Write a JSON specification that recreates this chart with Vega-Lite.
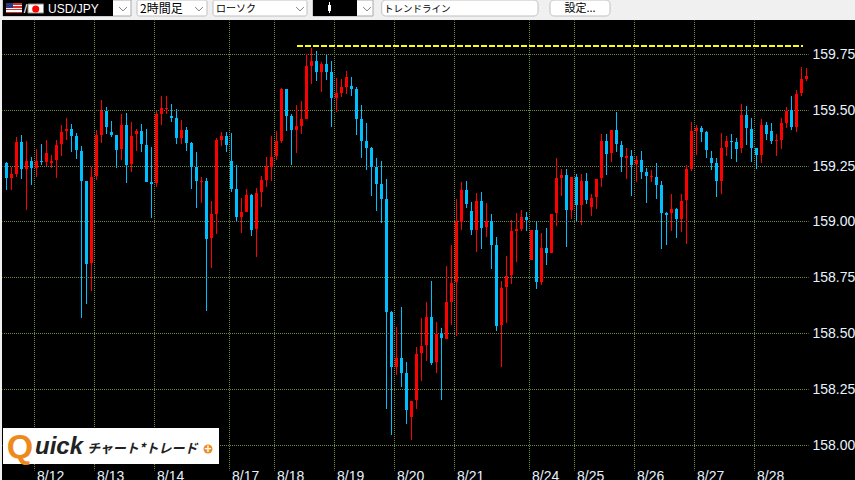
{
  "$schema": "https://vega.github.io/schema/vega-lite/v6.json",
  "width": 806,
  "height": 450,
  "autosize": {"type": "none"},
  "padding": {"left": 2, "top": 20, "right": 47, "bottom": 10},
  "background": "#000000",
  "config": {"view": {"stroke": null}},
  "layer": [
    {
      "data": {"values": [
        {"i":0,"o":159.262,"h":159.266,"l":159.141,"c":159.193},
        {"i":1,"o":159.193,"h":159.242,"l":159.141,"c":159.212},
        {"i":2,"o":159.211,"h":159.378,"l":159.197,"c":159.356},
        {"i":3,"o":159.356,"h":159.387,"l":159.190,"c":159.233},
        {"i":4,"o":159.233,"h":159.360,"l":159.051,"c":159.271},
        {"i":5,"o":159.271,"h":159.289,"l":159.163,"c":159.238},
        {"i":6,"o":159.239,"h":159.323,"l":159.197,"c":159.271},
        {"i":7,"o":159.271,"h":159.347,"l":159.251,"c":159.266},
        {"i":8,"o":159.266,"h":159.365,"l":159.247,"c":159.306},
        {"i":9,"o":159.260,"h":159.297,"l":159.239,"c":159.271},
        {"i":10,"o":159.275,"h":159.365,"l":159.194,"c":159.342},
        {"i":11,"o":159.347,"h":159.432,"l":159.293,"c":159.400},
        {"i":12,"o":159.403,"h":159.463,"l":159.365,"c":159.414},
        {"i":13,"o":159.414,"h":159.436,"l":159.311,"c":159.384},
        {"i":14,"o":159.383,"h":159.396,"l":159.280,"c":159.318},
        {"i":15,"o":159.315,"h":159.338,"l":158.567,"c":159.182},
        {"i":16,"o":159.181,"h":159.181,"l":158.630,"c":158.808},
        {"i":17,"o":158.812,"h":159.242,"l":158.688,"c":159.199},
        {"i":18,"o":159.203,"h":159.409,"l":159.185,"c":159.387},
        {"i":19,"o":159.389,"h":159.544,"l":159.351,"c":159.495},
        {"i":20,"o":159.495,"h":159.513,"l":159.392,"c":159.424},
        {"i":21,"o":159.400,"h":159.450,"l":159.378,"c":159.389},
        {"i":22,"o":159.387,"h":159.387,"l":159.239,"c":159.320},
        {"i":23,"o":159.323,"h":159.481,"l":159.275,"c":159.432},
        {"i":24,"o":159.432,"h":159.486,"l":159.172,"c":159.254},
        {"i":25,"o":159.257,"h":159.445,"l":159.221,"c":159.383},
        {"i":26,"o":159.390,"h":159.414,"l":159.315,"c":159.405},
        {"i":27,"o":159.405,"h":159.436,"l":159.311,"c":159.345},
        {"i":28,"o":159.342,"h":159.414,"l":159.177,"c":159.178},
        {"i":29,"o":159.177,"h":159.333,"l":159.015,"c":159.168},
        {"i":30,"o":159.172,"h":159.495,"l":159.154,"c":159.481},
        {"i":31,"o":159.483,"h":159.562,"l":159.432,"c":159.508},
        {"i":32,"o":159.504,"h":159.562,"l":159.481,"c":159.508},
        {"i":33,"o":159.472,"h":159.526,"l":159.445,"c":159.463},
        {"i":34,"o":159.463,"h":159.504,"l":159.347,"c":159.374},
        {"i":35,"o":159.374,"h":159.454,"l":159.347,"c":159.409},
        {"i":36,"o":159.409,"h":159.423,"l":159.315,"c":159.353},
        {"i":37,"o":159.351,"h":159.356,"l":159.145,"c":159.244},
        {"i":38,"o":159.244,"h":159.311,"l":159.060,"c":159.180},
        {"i":39,"o":159.177,"h":159.199,"l":159.082,"c":159.180},
        {"i":40,"o":159.181,"h":159.194,"l":158.599,"c":158.923},
        {"i":41,"o":158.924,"h":159.091,"l":158.791,"c":159.033},
        {"i":42,"o":159.032,"h":159.374,"l":158.944,"c":159.365},
        {"i":43,"o":159.365,"h":159.400,"l":159.338,"c":159.383},
        {"i":44,"o":159.383,"h":159.400,"l":159.311,"c":159.342},
        {"i":45,"o":159.271,"h":159.396,"l":159.132,"c":159.145},
        {"i":46,"o":159.145,"h":159.253,"l":159.000,"c":159.021},
        {"i":47,"o":159.021,"h":159.105,"l":158.948,"c":159.042},
        {"i":48,"o":159.042,"h":159.145,"l":159.042,"c":159.118},
        {"i":49,"o":159.118,"h":159.123,"l":158.935,"c":158.961},
        {"i":50,"o":158.964,"h":159.150,"l":158.841,"c":159.127},
        {"i":51,"o":159.132,"h":159.203,"l":159.065,"c":159.185},
        {"i":52,"o":159.185,"h":159.289,"l":159.154,"c":159.248},
        {"i":53,"o":159.244,"h":159.383,"l":159.181,"c":159.289},
        {"i":54,"o":159.293,"h":159.405,"l":159.275,"c":159.360},
        {"i":55,"o":159.362,"h":159.598,"l":159.351,"c":159.593},
        {"i":56,"o":159.593,"h":159.593,"l":159.405,"c":159.474},
        {"i":57,"o":159.472,"h":159.481,"l":159.253,"c":159.409},
        {"i":58,"o":159.409,"h":159.521,"l":159.306,"c":159.427},
        {"i":59,"o":159.427,"h":159.539,"l":159.392,"c":159.459},
        {"i":60,"o":159.459,"h":159.750,"l":159.459,"c":159.696},
        {"i":61,"o":159.696,"h":159.777,"l":159.616,"c":159.719},
        {"i":62,"o":159.719,"h":159.763,"l":159.629,"c":159.671},
        {"i":63,"o":159.671,"h":159.714,"l":159.580,"c":159.705},
        {"i":64,"o":159.705,"h":159.746,"l":159.634,"c":159.671},
        {"i":65,"o":159.669,"h":159.719,"l":159.423,"c":159.553},
        {"i":66,"o":159.554,"h":159.642,"l":159.490,"c":159.575},
        {"i":67,"o":159.577,"h":159.638,"l":159.557,"c":159.602},
        {"i":68,"o":159.604,"h":159.674,"l":159.571,"c":159.647},
        {"i":69,"o":159.607,"h":159.647,"l":159.562,"c":159.593},
        {"i":70,"o":159.593,"h":159.602,"l":159.387,"c":159.460},
        {"i":71,"o":159.459,"h":159.521,"l":159.284,"c":159.360},
        {"i":72,"o":159.360,"h":159.441,"l":159.230,"c":159.329},
        {"i":73,"o":159.329,"h":159.333,"l":159.114,"c":159.244},
        {"i":74,"o":159.244,"h":159.284,"l":159.047,"c":159.168},
        {"i":75,"o":159.168,"h":159.271,"l":158.993,"c":159.100},
        {"i":76,"o":159.100,"h":159.190,"l":158.160,"c":158.596},
        {"i":77,"o":158.593,"h":158.599,"l":158.043,"c":158.349},
        {"i":78,"o":158.349,"h":158.527,"l":158.312,"c":158.388},
        {"i":79,"o":158.388,"h":158.617,"l":158.258,"c":158.322},
        {"i":80,"o":158.321,"h":158.370,"l":158.092,"c":158.155},
        {"i":81,"o":158.124,"h":158.195,"l":158.021,"c":158.195},
        {"i":82,"o":158.198,"h":158.437,"l":158.160,"c":158.406},
        {"i":83,"o":158.409,"h":158.567,"l":158.285,"c":158.442},
        {"i":84,"o":158.445,"h":158.639,"l":158.375,"c":158.572},
        {"i":85,"o":158.572,"h":158.733,"l":158.357,"c":158.366},
        {"i":86,"o":158.369,"h":158.549,"l":158.321,"c":158.496},
        {"i":87,"o":158.496,"h":158.522,"l":158.200,"c":158.476},
        {"i":88,"o":158.473,"h":158.800,"l":158.473,"c":158.639},
        {"i":89,"o":158.640,"h":158.894,"l":158.536,"c":158.724},
        {"i":90,"o":158.726,"h":159.100,"l":158.487,"c":159.002},
        {"i":91,"o":158.997,"h":159.177,"l":158.962,"c":159.141},
        {"i":92,"o":159.141,"h":159.181,"l":159.060,"c":159.078},
        {"i":93,"o":159.047,"h":159.087,"l":158.939,"c":158.959},
        {"i":94,"o":158.959,"h":159.127,"l":158.863,"c":159.091},
        {"i":95,"o":159.091,"h":159.132,"l":158.876,"c":158.970},
        {"i":96,"o":158.973,"h":159.082,"l":158.930,"c":159.002},
        {"i":97,"o":159.002,"h":159.033,"l":158.787,"c":158.896},
        {"i":98,"o":158.894,"h":158.930,"l":158.509,"c":158.531},
        {"i":99,"o":158.534,"h":158.733,"l":158.348,"c":158.702},
        {"i":100,"o":158.705,"h":158.845,"l":158.545,"c":158.755},
        {"i":101,"o":158.758,"h":159.006,"l":158.720,"c":158.957},
        {"i":102,"o":158.957,"h":159.038,"l":158.818,"c":158.966},
        {"i":103,"o":158.967,"h":159.051,"l":158.957,"c":159.020},
        {"i":104,"o":159.020,"h":159.042,"l":158.957,"c":159.006},
        {"i":105,"o":158.827,"h":158.962,"l":158.827,"c":158.962},
        {"i":106,"o":158.962,"h":159.002,"l":158.697,"c":158.730},
        {"i":107,"o":158.730,"h":158.948,"l":158.715,"c":158.881},
        {"i":108,"o":158.881,"h":158.970,"l":158.805,"c":158.858},
        {"i":109,"o":158.860,"h":159.033,"l":158.858,"c":159.033},
        {"i":110,"o":159.036,"h":159.284,"l":158.979,"c":159.194},
        {"i":111,"o":159.196,"h":159.235,"l":159.114,"c":159.208},
        {"i":112,"o":159.208,"h":159.235,"l":158.885,"c":159.051},
        {"i":113,"o":159.051,"h":159.199,"l":159.011,"c":159.199},
        {"i":114,"o":159.199,"h":159.212,"l":159.002,"c":159.073},
        {"i":115,"o":159.073,"h":159.212,"l":158.984,"c":159.181},
        {"i":116,"o":159.181,"h":159.217,"l":159.078,"c":159.096},
        {"i":117,"o":159.063,"h":159.123,"l":159.024,"c":159.105},
        {"i":118,"o":159.108,"h":159.190,"l":159.054,"c":159.190},
        {"i":119,"o":159.193,"h":159.391,"l":159.154,"c":159.360},
        {"i":120,"o":159.360,"h":159.391,"l":159.208,"c":159.303},
        {"i":121,"o":159.305,"h":159.409,"l":159.266,"c":159.409},
        {"i":122,"o":159.409,"h":159.490,"l":159.311,"c":159.345},
        {"i":123,"o":159.342,"h":159.360,"l":159.221,"c":159.286},
        {"i":124,"o":159.284,"h":159.329,"l":159.190,"c":159.293},
        {"i":125,"o":159.293,"h":159.320,"l":159.114,"c":159.254},
        {"i":126,"o":159.257,"h":159.293,"l":159.177,"c":159.275},
        {"i":127,"o":159.275,"h":159.315,"l":159.190,"c":159.221},
        {"i":128,"o":159.221,"h":159.239,"l":159.082,"c":159.203},
        {"i":129,"o":159.197,"h":159.230,"l":159.177,"c":159.203},
        {"i":130,"o":159.199,"h":159.262,"l":159.100,"c":159.163},
        {"i":131,"o":159.163,"h":159.181,"l":158.876,"c":159.038},
        {"i":132,"o":159.036,"h":159.042,"l":158.894,"c":159.030},
        {"i":133,"o":159.036,"h":159.123,"l":158.957,"c":159.056},
        {"i":134,"o":159.056,"h":159.060,"l":158.926,"c":159.011},
        {"i":135,"o":159.012,"h":159.123,"l":158.953,"c":159.091},
        {"i":136,"o":159.094,"h":159.253,"l":158.899,"c":159.235},
        {"i":137,"o":159.236,"h":159.445,"l":159.226,"c":159.405},
        {"i":138,"o":159.405,"h":159.432,"l":159.297,"c":159.418},
        {"i":139,"o":159.418,"h":159.427,"l":159.356,"c":159.400},
        {"i":140,"o":159.400,"h":159.405,"l":159.284,"c":159.320},
        {"i":141,"o":159.284,"h":159.315,"l":159.230,"c":159.262},
        {"i":142,"o":159.262,"h":159.284,"l":159.109,"c":159.181},
        {"i":143,"o":159.182,"h":159.396,"l":159.123,"c":159.329},
        {"i":144,"o":159.333,"h":159.383,"l":159.293,"c":159.360},
        {"i":145,"o":159.360,"h":159.391,"l":159.280,"c":159.356},
        {"i":146,"o":159.356,"h":159.374,"l":159.266,"c":159.326},
        {"i":147,"o":159.329,"h":159.526,"l":159.306,"c":159.477},
        {"i":148,"o":159.477,"h":159.517,"l":159.342,"c":159.417},
        {"i":149,"o":159.414,"h":159.463,"l":159.266,"c":159.329},
        {"i":150,"o":159.329,"h":159.329,"l":159.235,"c":159.296},
        {"i":151,"o":159.296,"h":159.459,"l":159.262,"c":159.432},
        {"i":152,"o":159.432,"h":159.445,"l":159.365,"c":159.391},
        {"i":153,"o":159.405,"h":159.441,"l":159.347,"c":159.360},
        {"i":154,"o":159.362,"h":159.391,"l":159.293,"c":159.365},
        {"i":155,"o":159.365,"h":159.463,"l":159.324,"c":159.441},
        {"i":156,"o":159.442,"h":159.513,"l":159.418,"c":159.495},
        {"i":157,"o":159.499,"h":159.562,"l":159.409,"c":159.421},
        {"i":158,"o":159.421,"h":159.589,"l":159.401,"c":159.571},
        {"i":159,"o":159.575,"h":159.692,"l":159.562,"c":159.638},
        {"i":160,"o":159.638,"h":159.687,"l":159.629,"c":159.651}
      ]},
      "layer": [
        {
          "mark": {"type": "rule", "strokeWidth": 1},
          "encoding": {
            "x": {
              "field": "i",
              "type": "quantitative",
              "title": null,
              "scale": {"domain": [-0.9, 160.3], "nice": false, "zero": false, "padding": 0},
              "axis": {
                "values": [5.5, 17.5, 29.5, 44.5, 53.5, 65.5, 77.5, 89.5, 104.5, 113.5, 125.5, 137.5, 149.5],
                "labelExpr": "{'5.5':'8/12','17.5':'8/13','29.5':'8/14','44.5':'8/17','53.5':'8/18','65.5':'8/19','77.5':'8/20','89.5':'8/21','104.5':'8/24','113.5':'8/25','125.5':'8/26','137.5':'8/27','149.5':'8/28'}[datum.value]",
                "grid": true,
                "gridColor": "#6b8b3c",
                "gridDash": [1, 1],
                "gridDashOffset": 0.5,
                "domain": false,
                "ticks": false,
                "labelAlign": "left",
                "labelBaseline": "top",
                "labelOffset": 2.5,
                "labelPadding": -1,
                "labelFont": "Liberation Sans",
                "labelFontSize": 14,
                "labelColor": "#e6f2ff",
                "labelFlush": false,
                "labelOverlap": false,
                "title": null
              }
            },
            "y": {
              "field": "l",
              "type": "quantitative",
              "title": null,
              "scale": {"domain": [157.886, 159.902], "nice": false, "zero": false, "round": true},
              "axis": {
                "orient": "right",
                "values": [158, 158.25, 158.5, 158.75, 159, 159.25, 159.5, 159.75],
                "format": ".2f",
                "grid": true,
                "gridColor": "#6b8b3c",
                "gridDash": [1, 1],
                "gridDashOffset": 0.5,
                "domain": false,
                "ticks": false,
                "labelPadding": 4,
                "labelFont": "Liberation Sans",
                "labelFontSize": 14,
                "labelColor": "#e6f2ff",
                "labelFlush": false,
                "labelOverlap": false,
                "title": null
              }
            },
            "y2": {"field": "h"},
            "color": {"condition": {"test": "datum.c >= datum.o", "value": "#ff0000"}, "value": "#00bfff"}
          }
        },
        {
          "mark": {"type": "bar", "size": 3, "orient": "vertical"},
          "encoding": {
            "x": {"field": "i", "type": "quantitative"},
            "y": {"field": "o", "type": "quantitative"},
            "y2": {"field": "c"},
            "color": {"condition": {"test": "datum.c >= datum.o", "value": "#ff0000"}, "value": "#00bfff"}
          }
        }
      ]
    },
    {
      "data": {"values": [{"level": 159.786, "from": 58.1, "to": 159.3}]},
      "mark": {"type": "rule", "color": "#ffff00", "strokeWidth": 2, "strokeDash": [6, 2]},
      "encoding": {
        "x": {"field": "from", "type": "quantitative"},
        "x2": {"field": "to"},
        "y": {"field": "level", "type": "quantitative"}
      }
    },
    {
      "data": {"values": [{}]},
      "layer": [
        {"mark": {"type": "rect", "color": "#f0f0f0"}, "encoding": {"x": {"datum": -1.3}, "x2": {"datum": 169.7}, "y": {"datum": 159.992}, "y2": {"datum": 159.902}}},
        {"mark": {"type": "rect", "color": "#f0f0f0"}, "encoding": {"x": {"datum": -1.3}, "x2": {"datum": -0.9}, "y": {"datum": 159.992}, "y2": {"datum": 157.8416}}},

        {"mark": {"type": "rect", "color": "#ffffff", "stroke": "#a8a8a8"}, "encoding": {"x": {"datum": -0.7}, "x2": {"datum": 24.9}, "y": {"datum": 159.992}, "y2": {"datum": 159.920}}},
        {"mark": {"type": "rect", "color": "#000000"}, "encoding": {"x": {"datum": -0.7}, "x2": {"datum": 21.3}, "y": {"datum": 159.992}, "y2": {"datum": 159.920}}},
        {"mark": {"type": "rect", "color": {"gradient": "linear", "x1": 0, "y1": 0, "x2": 0, "y2": 1, "stops": [
          {"offset": 0, "color": "#d03030"}, {"offset": 0.15, "color": "#d03030"}, {"offset": 0.15, "color": "#ffffff"}, {"offset": 0.3, "color": "#ffffff"},
          {"offset": 0.3, "color": "#d03030"}, {"offset": 0.45, "color": "#d03030"}, {"offset": 0.45, "color": "#ffffff"}, {"offset": 0.6, "color": "#ffffff"},
          {"offset": 0.6, "color": "#d03030"}, {"offset": 0.75, "color": "#d03030"}, {"offset": 0.75, "color": "#ffffff"}, {"offset": 0.88, "color": "#ffffff"},
          {"offset": 0.88, "color": "#d03030"}, {"offset": 1, "color": "#d03030"}]}},
          "encoding": {"x": {"datum": -0.1}, "x2": {"datum": 3.1}, "y": {"datum": 159.977}, "y2": {"datum": 159.932}}},
        {"mark": {"type": "rect", "color": "#2a3a80"}, "encoding": {"x": {"datum": -0.1}, "x2": {"datum": 1.3}, "y": {"datum": 159.977}, "y2": {"datum": 159.955}}},
        {"mark": {"type": "text", "text": "/", "color": "#ffffff", "font": "Liberation Sans", "fontSize": 13}, "encoding": {"x": {"datum": 3.8}, "y": {"datum": 159.952}}},
        {"mark": {"type": "rect", "color": "#ffffff", "stroke": "#8a8a8a"}, "encoding": {"x": {"datum": 4.3}, "x2": {"datum": 7.4}, "y": {"datum": 159.974}, "y2": {"datum": 159.934}}},
        {"mark": {"type": "point", "shape": "circle", "filled": true, "color": "#ff0000", "opacity": 1, "size": 50}, "encoding": {"x": {"datum": 5.84}, "y": {"datum": 159.953}}},
        {"mark": {"type": "text", "text": "USD/JPY", "align": "left", "color": "#ffffff", "font": "Liberation Sans", "fontSize": 12}, "encoding": {"x": {"datum": 8.3}, "y": {"datum": 159.952}}},

        {"mark": {"type": "rect", "color": "#ffffff", "stroke": "#c0c0c0", "cornerRadius": 2}, "encoding": {"x": {"datum": 26.1}, "x2": {"datum": 40.1}, "y": {"datum": 159.992}, "y2": {"datum": 159.920}}},
        {"mark": {"type": "text", "text": "2時間足", "align": "left", "color": "#000000", "font": "Noto Sans CJK JP", "fontSize": 12}, "encoding": {"x": {"datum": 26.7}, "y": {"datum": 159.952}}},
        {"mark": {"type": "rect", "color": "#ffffff", "stroke": "#c0c0c0", "cornerRadius": 2}, "encoding": {"x": {"datum": 41.3}, "x2": {"datum": 60.1}, "y": {"datum": 159.992}, "y2": {"datum": 159.920}}},
        {"mark": {"type": "text", "text": "ローソク", "align": "left", "color": "#000000", "font": "Noto Sans CJK JP", "fontSize": 10}, "encoding": {"x": {"datum": 41.9}, "y": {"datum": 159.952}}},

        {"mark": {"type": "rect", "color": "#ffffff", "stroke": "#a8a8a8"}, "encoding": {"x": {"datum": 61.3}, "x2": {"datum": 73.3}, "y": {"datum": 159.992}, "y2": {"datum": 159.920}}},
        {"mark": {"type": "rect", "color": "#000000"}, "encoding": {"x": {"datum": 61.3}, "x2": {"datum": 70.1}, "y": {"datum": 159.992}, "y2": {"datum": 159.920}}},
        {"mark": {"type": "rule", "color": "#ffffff"}, "encoding": {"x": {"datum": 64.6}, "y": {"datum": 159.983}, "y2": {"datum": 159.934}}},
        {"mark": {"type": "bar", "size": 3, "orient": "vertical", "color": "#ffffff"}, "encoding": {"x": {"datum": 64.6}, "y": {"datum": 159.970}, "y2": {"datum": 159.943}}},

        {"mark": {"type": "rect", "color": "#ffffff", "stroke": "#c0c0c0", "cornerRadius": 4}, "encoding": {"x": {"datum": 75.04}, "x2": {"datum": 106.3}, "y": {"datum": 159.992}, "y2": {"datum": 159.920}}},
        {"mark": {"type": "text", "text": "トレンドライン", "align": "left", "color": "#000000", "font": "Noto Sans CJK JP", "fontSize": 9.5}, "encoding": {"x": {"datum": 75.5}, "y": {"datum": 159.952}}},
        {"mark": {"type": "rect", "color": "#ffffff", "stroke": "#c0c0c0", "cornerRadius": 4}, "encoding": {"x": {"datum": 108.7}, "x2": {"datum": 120.7}, "y": {"datum": 159.992}, "y2": {"datum": 159.920}}},
        {"mark": {"type": "text", "text": "設定...", "color": "#000000", "font": "Noto Sans CJK JP", "fontSize": 11}, "encoding": {"x": {"datum": 114.7}, "y": {"datum": 159.952}}},

        {"mark": {"type": "point", "shape": "M-1,-0.5L0,0.5L1,-0.5", "color": "#808080", "opacity": 1, "size": 60, "strokeWidth": 1}, "encoding": {"x": {"datum": 23.3}, "y": {"datum": 159.952}}},
        {"mark": {"type": "point", "shape": "M-1,-0.5L0,0.5L1,-0.5", "color": "#808080", "opacity": 1, "size": 60, "strokeWidth": 1}, "encoding": {"x": {"datum": 38.5}, "y": {"datum": 159.952}}},
        {"mark": {"type": "point", "shape": "M-1,-0.5L0,0.5L1,-0.5", "color": "#808080", "opacity": 1, "size": 60, "strokeWidth": 1}, "encoding": {"x": {"datum": 58.7}, "y": {"datum": 159.952}}},
        {"mark": {"type": "point", "shape": "M-1,-0.5L0,0.5L1,-0.5", "color": "#808080", "opacity": 1, "size": 60, "strokeWidth": 1}, "encoding": {"x": {"datum": 72.1}, "y": {"datum": 159.952}}},

        {"mark": {"type": "rect", "color": "#ffffff"}, "encoding": {"x": {"datum": -0.7}, "x2": {"datum": 42.5}, "y": {"datum": 158.0746}, "y2": {"datum": 157.9133}}},
        {"mark": {"type": "text", "text": "Q", "color": "#ee8a1d", "font": "Liberation Sans", "fontWeight": "bold", "fontSize": 34}, "encoding": {"x": {"datum": 2.7}, "y": {"datum": 157.985}}},
        {"mark": {"type": "text", "text": "uick", "align": "left", "color": "#222222", "font": "Liberation Sans", "fontWeight": "bold", "fontStyle": "italic", "fontSize": 24}, "encoding": {"x": {"datum": 5.7}, "y": {"datum": 157.9894}}},
        {"mark": {"type": "text", "text": "チャート*トレード", "align": "left", "color": "#222222", "font": "Noto Sans CJK JP", "fontWeight": "bold", "fontStyle": "italic", "fontSize": 13}, "encoding": {"x": {"datum": 16.1}, "y": {"datum": 157.9805}}},
        {"mark": {"type": "point", "shape": "circle", "filled": true, "color": "#ee8a1d", "opacity": 1, "size": 80}, "encoding": {"x": {"datum": 40.3}, "y": {"datum": 157.9805}}},
        {"mark": {"type": "text", "text": "+", "color": "#ffffff", "font": "Liberation Sans", "fontWeight": "bold", "fontSize": 12}, "encoding": {"x": {"datum": 40.3}, "y": {"datum": 157.9805}}}
      ]
    }
  ]
}
